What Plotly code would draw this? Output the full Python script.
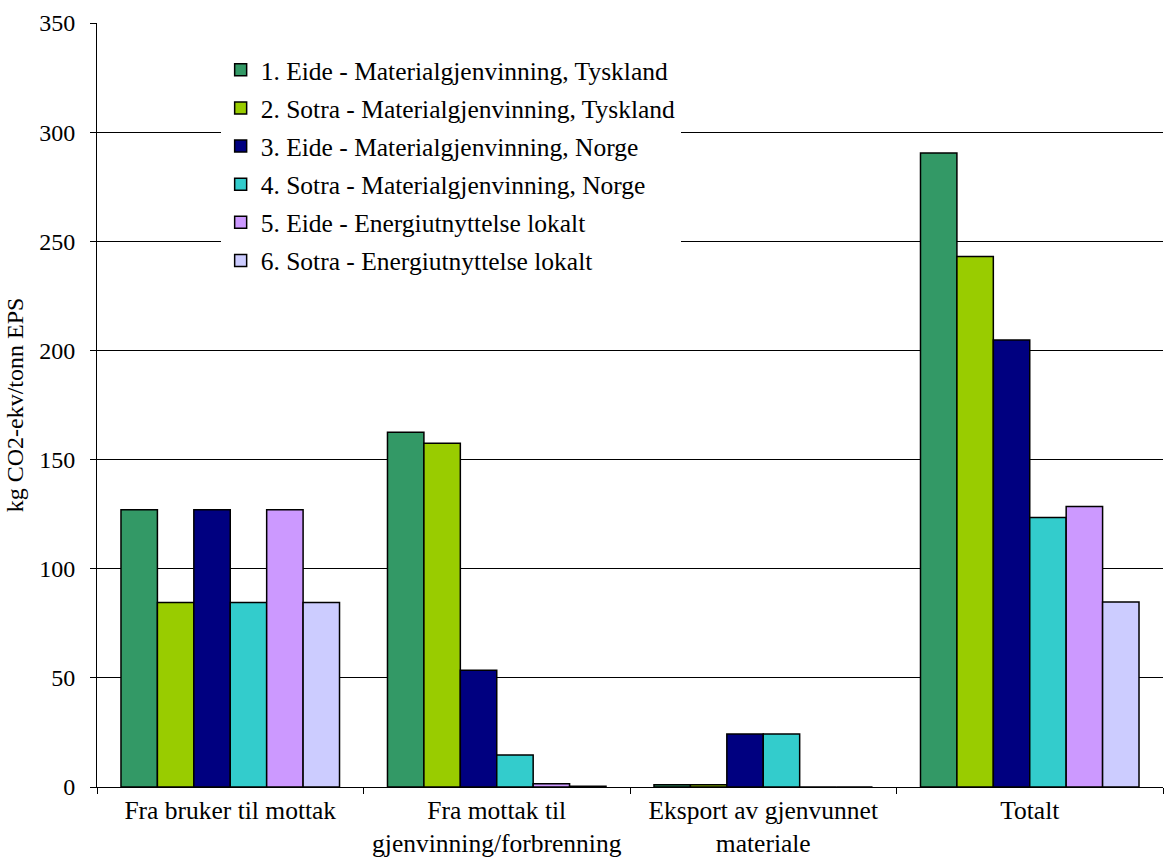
import plotly.graph_objects as go

# Categories along the x axis (life-cycle stages)
categories = [
    "Fra bruker til mottak",
    "Fra mottak til<br>gjenvinning/forbrenning",
    "Eksport av gjenvunnet<br>materiale",
    "Totalt",
]

# Scenario names
scenarios = [
    "1. Eide - Materialgjenvinning, Tyskland",
    "2. Sotra - Materialgjenvinning, Tyskland",
    "3. Eide - Materialgjenvinning, Norge",
    "4. Sotra - Materialgjenvinning, Norge",
    "5. Eide - Energiutnyttelse lokalt",
    "6. Sotra - Energiutnyttelse lokalt",
]

# kg CO2-ekv per tonn EPS, one list per scenario (same order as categories)
eide_tyskland = [127.0, 162.5, 1.0, 290.5]
sotra_tyskland = [84.5, 157.5, 1.0, 243.0]
eide_norge = [127.0, 53.5, 24.3, 204.8]
sotra_norge = [84.5, 14.7, 24.3, 123.5]
eide_energi = [127.0, 1.5, 0.0, 128.5]
sotra_energi = [84.5, 0.3, 0.0, 84.8]

series = [eide_tyskland, sotra_tyskland, eide_norge, sotra_norge, eide_energi, sotra_energi]
colors = ["#339966", "#99CC00", "#000080", "#33CCCC", "#CC99FF", "#CCCCFF"]

y_ticks = [0, 50, 100, 150, 200, 250, 300, 350]

fig = go.Figure()
for i, (name, vals, col) in enumerate(zip(scenarios, series, colors)):
    fig.add_trace(go.Bar(
        x=categories,
        y=vals,
        name=name,
        legendgroup=f"g{i}",
        marker=dict(color=col, line=dict(color="black", width=1.5)),
    ))

serif = "Liberation Serif"

fig.update_layout(
    width=1175,
    height=865,
    margin=dict(l=97, r=12, t=23, b=78),
    paper_bgcolor="white",
    plot_bgcolor="white",
    barmode="group",
    bargap=0.18,
    bargroupgap=0,
    font=dict(family=serif, size=25, color="black"),
    showlegend=True,
    legend=dict(
        x=0.116, y=0.969,
        xanchor="left", yanchor="top",
        bgcolor="white",
        borderwidth=0,
        font=dict(family=serif, size=25.5, color="black"),
        traceorder="grouped",
        tracegroupgap=2,
        itemwidth=30,
    ),
    xaxis=dict(
        type="category",
        automargin=False,
        tickson="boundaries",
        ticks="outside",
        ticklen=6,
        tickcolor="black",
        showline=True,
        linecolor="black",
        linewidth=1,
        showgrid=False,
        tickfont=dict(family=serif, size=25.5, color="black"),
    ),
    yaxis=dict(
        range=[0, 350],
        automargin=False,
        tickvals=y_ticks,
        ticks="outside",
        ticklen=6,
        tickcolor="black",
        showline=True,
        linecolor="black",
        linewidth=1,
        showgrid=True,
        gridcolor="black",
        gridwidth=1,
        zeroline=False,
        ticklabelstandoff=10,
        tickfont=dict(family=serif, size=24, color="black"),
        title=dict(text="kg CO2-ekv/tonn EPS", font=dict(family=serif, size=24, color="black"), standoff=8),
    ),
)

fig.write_html("out.html")
